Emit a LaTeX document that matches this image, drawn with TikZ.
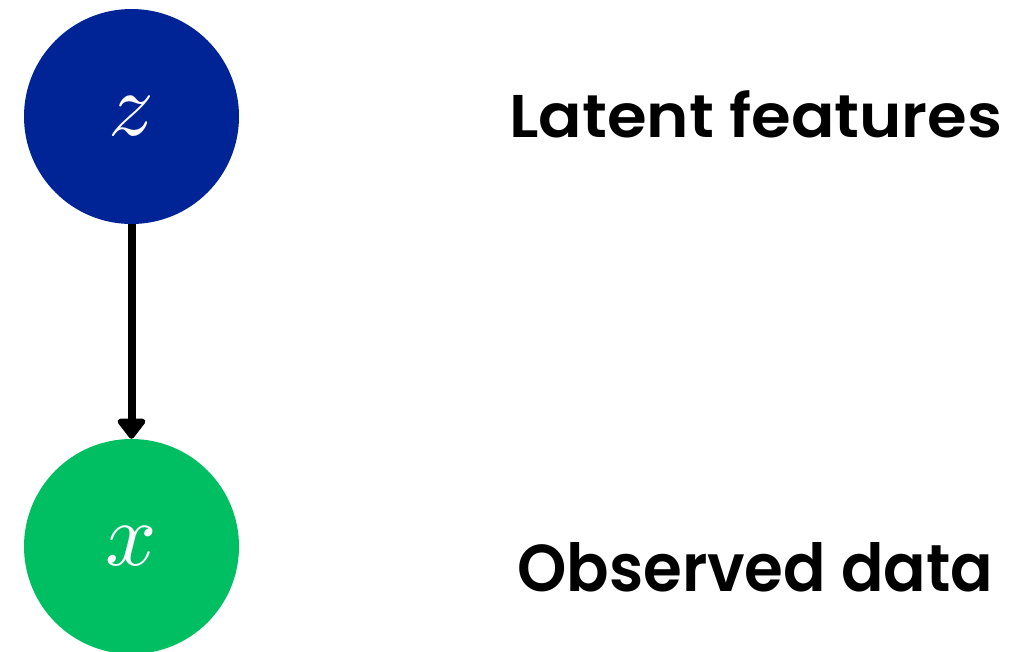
\documentclass[tikz,border=0pt]{standalone}
\usepackage{fontspec}
\usetikzlibrary{arrows.meta}
\newfontfamily\lblfont{Poppins SemiBold}
\definecolor{zblue}{RGB}{0,36,150}
\definecolor{xgreen}{RGB}{0,191,99}
\tikzset{
  varnode/.style={circle, inner sep=0pt, minimum size=215pt, text=white},
  lbl/.style={anchor=base west, inner sep=0pt, text=black},
  edge/.style={line width=8pt, -{Triangle[width=32pt,length=22pt,round]}}
}
\begin{document}
\begin{tikzpicture}[x=1pt,y=-1pt]
\useasboundingbox (0,0) rectangle (1011,651);
\node[varnode, fill=zblue] (z) at (131.5,116.5) {\scalebox{9}{$z$}};
\node[varnode, fill=xgreen] (x) at (131.5,546.5) {\scalebox{9}{$x$}};
\draw[edge] (z.south) -- (x.north);
\node[lbl] (lz) at (509,137) {\resizebox{493pt}{47pt}{\lblfont Latent features}};
\node[lbl] (lx) at (517,591) {\resizebox{476pt}{49pt}{\lblfont Observed data}};
\end{tikzpicture}
\end{document}
